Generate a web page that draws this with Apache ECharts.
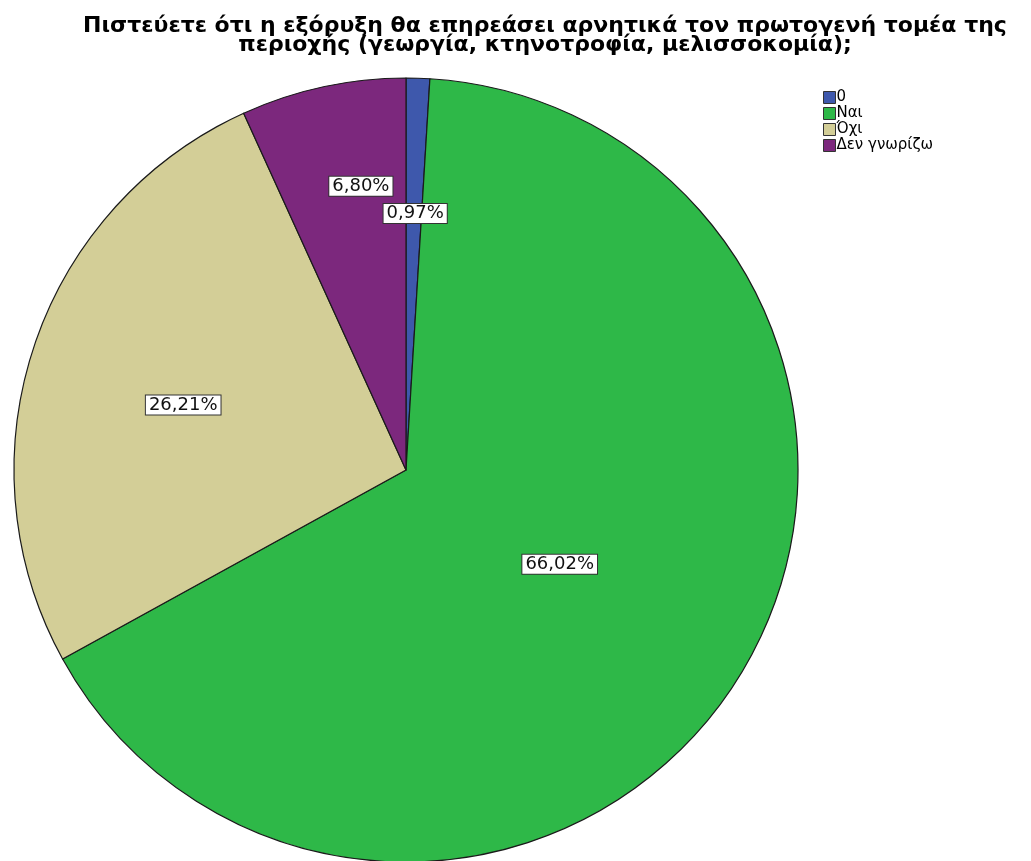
<!DOCTYPE html>
<html>
<head>
<meta charset="utf-8">
<script src="https://cdn.jsdelivr.net/npm/echarts@6/dist/echarts.min.js"></script>
<style>
html,body{margin:0;padding:0;background:#fff;}
#c{width:1031px;height:861px;}
</style>
</head>
<body>
<div id="c"></div>
<script>
const titleLines = ['Πιστεύετε ότι η εξόρυξη θα επηρεάσει αρνητικά τον πρωτογενή τομέα της', 'περιοχής (γεωργία, κτηνοτροφία, μελισσοκομία);'];
const categories = ['0', 'Ναι', 'Όχι', 'Δεν γνωρίζω'];
const counts = [1, 68, 27, 7];
const percentLabels = ['0,97%', '66,02%', '26,21%', '6,80%'];
const colors = ['#3E58AC', '#2EB848', '#D3CE97', '#7C287D'];
const labelRadialFrac = [0.655, 0.46, 0.592, 0.733];
const labelAngleShift = [0.3, -0.8, -2.1, 3.2];

const cx = 406, cy = 470, R = 392;
const total = counts.reduce((a, b) => a + b, 0);
const midAngles = [];
let acc = 0;
counts.forEach(v => { midAngles.push((acc + v / 2) / total * 2 * Math.PI); acc += v; });

const chart = echarts.init(document.getElementById('c'));
chart.setOption({
  animation: false,
  title: {
    text: titleLines.join('\n'),
    left: 540, top: 12, textAlign: 'center',
    textStyle: { fontFamily: 'DejaVu Sans', fontWeight: 'bold', fontSize: 22, lineHeight: 19, color: '#000' }
  },
  legend: {
    orient: 'vertical', left: 818, top: 85,
    itemWidth: 12, itemHeight: 12, itemGap: 1,
    icon: 'rect',
    itemStyle: { borderColor: '#333', borderWidth: 1 },
    textStyle: { fontFamily: 'DejaVu Sans', fontSize: 15, lineHeight: 14, color: '#000', padding: [0,0,0,-4] },
    data: categories
  },
  series: [{
    type: 'pie',
    center: [cx, cy],
    radius: [0, R],
    startAngle: 90,
    clockwise: true,
    avoidLabelOverlap: false,
    itemStyle: { borderColor: '#1a1a1a', borderWidth: 1.2 },
    label: {
      show: true, position: 'inside',
      formatter: p => percentLabels[p.dataIndex],
      fontFamily: 'DejaVu Sans', fontSize: 18, color: '#111',
      backgroundColor: '#fff', borderColor: '#333', borderWidth: 1, padding: [1, 3, 0, 3]
    },
    labelLayout: p => {
      const i = p.dataIndex;
      const a = midAngles[i] + labelAngleShift[i] * Math.PI / 180;
      const r = labelRadialFrac[i] * R;
      return { x: cx + r * Math.sin(a), y: cy - r * Math.cos(a), align: 'center', verticalAlign: 'middle' };
    },
    emphasis: { disabled: true },
    data: categories.map((c, i) => ({ name: c, value: counts[i], itemStyle: { color: colors[i] } }))
  }]
});
</script>
</body>
</html>
